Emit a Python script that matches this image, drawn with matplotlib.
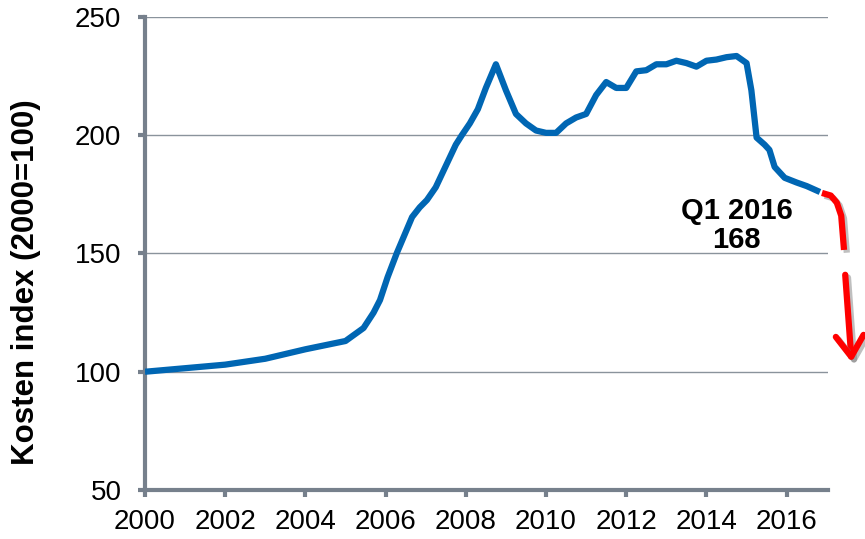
import numpy as np
import matplotlib.pyplot as plt
import matplotlib.patheffects as pe

# Cost index, quarterly (2000=100)
years = [2000, 2001, 2002, 2003, 2004, 2005, 2005.45, 2005.7, 2005.86, 2006.05,
         2006.28, 2006.5, 2006.66, 2006.85, 2007.03, 2007.25, 2007.5, 2007.75,
         2007.9, 2008.1, 2008.3, 2008.5, 2008.75,
         2009, 2009.25, 2009.5, 2009.75, 2010, 2010.25, 2010.5, 2010.75,
         2011, 2011.25, 2011.5, 2011.75, 2012, 2012.25, 2012.5, 2012.75,
         2013, 2013.25, 2013.5, 2013.75, 2014, 2014.25, 2014.5, 2014.75,
         2015, 2015.12, 2015.25, 2015.45, 2015.57, 2015.7, 2015.95, 2016.25,
         2016.5, 2016.83]
index = [100, 101.5, 103, 105.5, 109.5, 113, 118.5, 125, 130.3, 140,
         150.2, 159, 165.4, 169.5, 172.6, 178, 187, 196,
         200, 205, 211, 220, 230,
         219, 209, 205, 202, 201, 201, 205, 207.5,
         209, 217, 222.5, 220, 220, 227, 227.5, 230,
         230, 231.5, 230.5, 229, 231.5, 232, 233, 233.5,
         230.5, 219, 199, 196, 193.8, 186.6, 182, 180,
         178.5, 176]

# Expected further decline (red)
forecast_x = [2016.88, 2017.1, 2017.25, 2017.36, 2017.43]
forecast_y = [175.6, 174.5, 171.5, 166, 151.5]
arrow_start = (2017.46, 141)
arrow_end = (2017.62, 104)

annot_text = "Q1 2016\n168"
yticks = [50, 100, 150, 200, 250]
xticks = list(range(2000, 2017, 2))

grey = "#76808c"

fig = plt.figure(figsize=(8.65, 5.39), dpi=100)
ax = fig.add_axes([0.1676, 0.0909, 0.7896, 0.8776])

ax.plot(years, index, color="#0066b3", linewidth=4.5, solid_joinstyle="round",
        solid_capstyle="butt", zorder=3)

shadow = [pe.SimpleLineShadow(offset=(2, -2), shadow_color="gray", alpha=0.5),
          pe.Normal()]
ax.plot(forecast_x, forecast_y, color="#ff0000", linewidth=4.5, clip_on=False,
        solid_capstyle="butt", path_effects=shadow, zorder=3)
ax.annotate("", xy=arrow_end, xytext=arrow_start, annotation_clip=False,
            arrowprops=dict(arrowstyle="->,head_length=0.75,head_width=0.5",
                            mutation_scale=20, color="#ff0000", lw=4.5,
                            shrinkA=0, shrinkB=0, path_effects=shadow))

ax.text(2014.75, 162, annot_text, ha="center", va="center", fontsize=21,
        fontweight="bold", family="Liberation Sans", linespacing=1.05)

ax.set_xlim(2000, 2017.03)
ax.set_ylim(50, 250)
ax.set_yticks(yticks)
ax.set_xticks(xticks)
ax.grid(axis="y", color="#8a939c", linewidth=1.0)
ax.set_axisbelow(True)

for s in ["top", "right"]:
    ax.spines[s].set_visible(False)
for s in ["left", "bottom"]:
    ax.spines[s].set_color(grey)
    ax.spines[s].set_linewidth(3)
ax.tick_params(axis="both", color=grey, width=3, length=5, direction="out")
ax.tick_params(axis="y", labelsize=20, pad=12)
ax.tick_params(axis="x", labelsize=20, pad=9)
for lbl in ax.get_yticklabels() + ax.get_xticklabels():
    lbl.set_family("Liberation Sans")

ax.set_ylabel("Kosten index (2000=100)", fontsize=22.5, fontweight="bold",
              family="Liberation Sans")
ax.yaxis.set_label_coords(-0.152, 0.44)

fig.savefig("out.png", dpi=100)
